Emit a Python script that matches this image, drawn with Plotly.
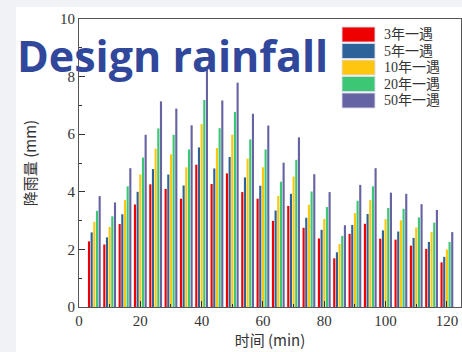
import plotly.graph_objects as go

times = [5, 10, 15, 20, 25, 30, 35, 40, 45, 50, 55, 60, 65, 70, 75, 80, 85, 90, 95, 100, 105, 110, 115, 120]
series_names = ["3年一遇", "5年一遇", "10年一遇", "20年一遇", "50年一遇"]
p3 = [2.28, 2.17, 2.88, 3.56, 4.26, 4.10, 3.76, 4.94, 4.27, 4.64, 3.99, 3.76, 2.99, 3.51, 2.75, 2.38, 1.69, 2.54, 2.89, 2.37, 2.34, 2.13, 2.02, 1.55]
p5 = [2.59, 2.42, 3.22, 4.00, 4.79, 4.60, 4.22, 5.54, 4.81, 5.21, 4.50, 4.21, 3.35, 3.93, 3.10, 2.68, 1.90, 2.85, 3.23, 2.66, 2.62, 2.40, 2.26, 1.74]
p10 = [2.96, 2.78, 3.71, 4.60, 5.50, 5.30, 4.85, 6.35, 5.52, 5.98, 5.15, 4.85, 3.86, 4.53, 3.55, 3.06, 2.19, 3.26, 3.71, 3.05, 3.01, 2.76, 2.60, 2.00]
p20 = [3.34, 3.15, 4.19, 5.19, 6.20, 5.98, 5.47, 7.19, 6.21, 6.77, 5.82, 5.47, 4.35, 5.11, 4.01, 3.47, 2.47, 3.69, 4.19, 3.44, 3.41, 3.11, 2.93, 2.26]
p50 = [3.85, 3.63, 4.82, 5.98, 7.14, 6.89, 6.31, 8.25, 7.17, 7.79, 6.71, 6.30, 5.01, 5.89, 4.61, 3.99, 2.84, 4.24, 4.82, 3.97, 3.93, 3.57, 3.37, 2.60]
series_values = [p3, p5, p10, p20, p50]
colors = ["#EE0000", "#2E6399", "#FFC60F", "#3CC774", "#6663A3"]

x_ticks = [0, 20, 40, 60, 80, 100, 120]
y_ticks = [0, 2, 4, 6, 8, 10]

serif = "Liberation Serif, Noto Sans CJK SC, serif"
cjk = "Noto Sans CJK SC, Liberation Serif, serif"

fig = go.Figure()
for name, vals, col in zip(series_names, series_values, colors):
    fig.add_trace(go.Bar(x=times, y=vals, name=name, marker=dict(color=col, line=dict(width=0)),
                         showlegend=False))

W, H = 462, 352
ml, mr, mt, mb = 79, 1, 19, 45
pw, ph = W - ml - mr, H - mt - mb

def px_x(px):
    return (px - ml) / pw

def px_y(py):
    return (H - mb - py) / ph

shapes = [dict(type="rect", xref="paper", yref="paper", x0=px_x(16), x1=px_x(470), y0=px_y(360), y1=px_y(7),
               fillcolor="white", line=dict(width=0), layer="below")]
annotations = []
for i, (name, col) in enumerate(zip(series_names, colors)):
    top = 27 + i * 16.5
    shapes.append(dict(type="rect", xref="paper", yref="paper", x0=px_x(342), x1=px_x(375),
                       y0=px_y(top + 15), y1=px_y(top), fillcolor=col,
                       line=dict(color="rgba(220,220,235,0.9)", width=1)))
    annotations.append(dict(text=name, xref="paper", yref="paper", x=px_x(382), y=px_y(top + 7.5),
                            xanchor="left", yanchor="middle", showarrow=False,
                            font=dict(family=serif, size=14, color="#333333")))

annotations.append(dict(text="<b>Design rainfall</b>", xref="paper", yref="paper", x=px_x(15), y=px_y(55),
                        xanchor="left", yanchor="middle", showarrow=False,
                        font=dict(family="Open Sans, sans-serif", size=43, color="#30479B")))

fig.update_layout(
    width=W, height=H,
    margin=dict(l=ml, r=mr, t=mt, b=mb, pad=0),
    paper_bgcolor="#F0F2F5", plot_bgcolor="white",
    barmode="group", bargap=0.13, bargroupgap=0.2,
    shapes=shapes, annotations=annotations,
    xaxis=dict(range=[0, 124.6], tickvals=x_ticks, ticktext=[str(v) for v in x_ticks],
               ticks="inside", ticklen=6, tickcolor="#333333", tickwidth=1,
               minor=dict(tickvals=[10, 30, 50, 70, 90, 110], ticks="inside", ticklen=3, tickcolor="#333333"),
               showline=True, linecolor="#555555", linewidth=1, mirror=True, showgrid=False, zeroline=False,
               tickfont=dict(family=serif, size=15, color="#333333"),
               title=dict(text="时间 (min)", font=dict(family=cjk, size=15, color="#333333"), standoff=5)),
    yaxis=dict(range=[0, 10], tickvals=y_ticks, ticktext=[str(v) for v in y_ticks],
               ticks="inside", ticklen=6, tickcolor="#333333", tickwidth=1,
               minor=dict(dtick=1, ticks="inside", ticklen=3, tickcolor="#333333"),
               showline=True, linecolor="#555555", linewidth=1, mirror=True, showgrid=False, zeroline=False,
               tickfont=dict(family=serif, size=15, color="#333333"),
               title=dict(text="降雨量 (mm)", font=dict(family=cjk, size=15, color="#333333"), standoff=19)),
)

fig.write_html("out.html")
